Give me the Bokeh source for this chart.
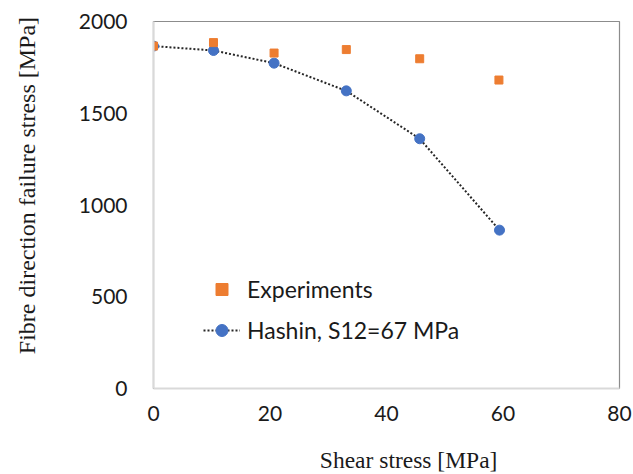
import math
from bokeh.plotting import figure
from bokeh.models import Range1d, Legend, LegendItem, Label, FixedTicker
from bokeh.embed import file_html
from bokeh.resources import INLINE

# Data
exp_x = [0, 10.3, 20.7, 33.1, 45.7, 59.3]
exp_y = [1866, 1885, 1828, 1847, 1797, 1681]
hashin_x = [0, 10.3, 20.7, 33.1, 45.7, 59.4]
hashin_y = [1866, 1842, 1773, 1622, 1361, 863]
x_ticks = [0, 20, 40, 60, 80]
y_ticks = [0, 500, 1000, 1500, 2000]

p = figure(width=633, height=474, output_backend="svg", toolbar_location=None,
           x_range=Range1d(0, 80), y_range=Range1d(0, 2000),
           min_border_left=153, min_border_right=14, min_border_top=21, min_border_bottom=86)
p.background_fill_color = "white"
p.border_fill_color = "white"
p.outline_line_color = "#8c8c8c"
p.outline_line_width = 1.2
p.xgrid.visible = False
p.ygrid.visible = False

for ax in (p.xaxis[0], p.yaxis[0]):
    ax.axis_line_color = "#d9d9d9"
    ax.axis_line_width = 2
    ax.major_tick_line_color = None
    ax.minor_tick_line_color = None
    ax.major_tick_out = 0
    ax.major_tick_in = 0
    ax.major_label_text_font = "Lato"
    ax.major_label_text_font_size = "21px"
    ax.major_label_text_color = "#1a1a1a"
p.xaxis[0].ticker = FixedTicker(ticks=x_ticks)
p.yaxis[0].ticker = FixedTicker(ticks=y_ticks)
p.xaxis[0].major_label_standoff = 17
p.yaxis[0].major_label_standoff = 26

line = p.line(hashin_x, hashin_y, line_color="#262626", line_width=2, line_dash="2 2")
circ = p.scatter(hashin_x, hashin_y, marker="circle", size=10, fill_color="#4472C4", line_color="#4472C4")
sq = p.scatter(exp_x, exp_y, marker="square", size=8, fill_color="#ED7D31", line_color="#ED7D31")

legend = Legend(items=[LegendItem(label="Experiments", renderers=[sq]),
                       LegendItem(label="Hashin, S12=67 MPa", renderers=[line, circ])],
                location=(50, 43), padding=0, margin=0, spacing=11,
                glyph_width=37, glyph_height=30, label_height=30, label_standoff=7,
                border_line_color=None, background_fill_alpha=0,
                label_text_font="Lato", label_text_font_size="23px", label_text_color="#1a1a1a")
p.add_layout(legend)

xlab = Label(x=43.8, y=-387, text="Shear stress [MPa]", text_font="Liberation Serif",
             text_font_size="23.5px", text_align="center", text_baseline="middle", text_color="#1a1a1a")
ylab = Label(x=-21.8, y=1106, text="Fibre direction failure stress [MPa]", text_font="Liberation Serif",
             text_font_size="24px", text_align="center", text_baseline="middle", angle=math.pi / 2,
             text_color="#1a1a1a")
p.add_layout(xlab, "below")
p.add_layout(ylab, "left")

open("out.html", "w").write(file_html(p, INLINE))
